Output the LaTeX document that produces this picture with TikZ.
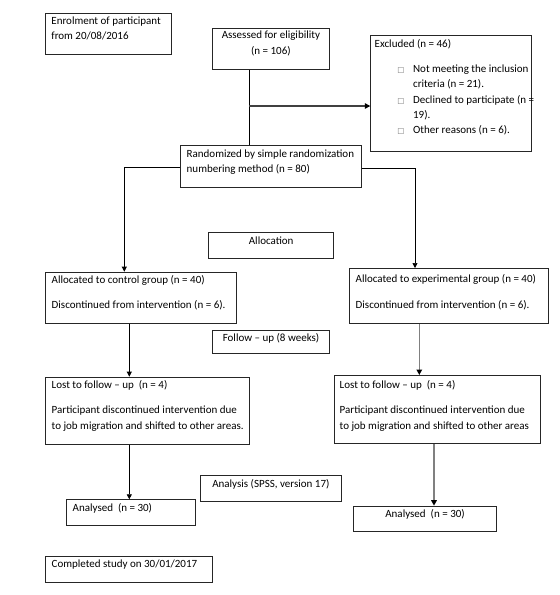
\documentclass[tikz,border=0pt]{standalone}
\usepackage{fontspec}
\setmainfont{Carlito}
\newfontfamily\dejavu{DejaVu Sans}
\usetikzlibrary{arrows.meta,calc}
\newcommand{\LB}[4]{\parbox[c][#2pt][t]{#1pt}{\vspace*{#3pt}\leftskip=6pt\rightskip=-30pt plus 1fil\parfillskip=0pt plus 1fil\strut #4\par}}
\newcommand{\CB}[4]{\parbox[c][#2pt][t]{#1pt}{\vspace*{#3pt}\centering\strut #4\par}}
\newcommand{\sqb}{{\dejavu\fontsize{7.5}{8}\selectfont\color{black!55}□}}
\newcommand{\bul}{\leavevmode\llap{\makebox[15.7pt][l]{\sqb}}}
\begin{document}
\begin{tikzpicture}[x=1pt,y=-1pt,
  font=\fontsize{11}{15.3}\selectfont,
  box/.style={draw=black!85, line width=0.8pt, inner sep=0pt, anchor=north west},
  ln/.style={draw=black, line width=0.7pt},
  arr/.style={ln, -{Triangle[length=5pt,width=5pt]}},
  garr/.style={draw=black!50, line width=1.5pt, -{Triangle[length=5.5pt,width=5.5pt,color=black]}},
  darr/.style={draw=black!75, line width=1.3pt, -{Triangle[length=5.5pt,width=5.5pt,color=black]}}]
\fill[white] (0,0) rectangle (560,595);
\useasboundingbox (0,0) rectangle (560,595);

\node[box] (enrol) at (45,13) {\LB{125.7}{41.3}{0.35}{Enrolment of participant\\from 20/08/2016}};
\node[box] (assess) at (211.7,28.3) {\CB{117.6}{41}{-0.6}{Assessed for eligibility\\(n = 106)}};
\node[box] (excl) at (370.3,34.7) {\parbox[c][116pt][t]{160.4pt}{\vspace*{1.3pt}\leftskip=4pt\rightskip=-30pt plus 1fil\parfillskip=0pt plus 1fil\strut Excluded (n = 46)\par\vspace{10.2pt}\leftskip=42.4pt
  \bul Not meeting the inclusion\\criteria (n = 21).\par
  \bul Declined to participate (n =\\19).\par
  \bul Other reasons (n = 6).\par}};
\node[box] (rand) at (180.3,145) {\LB{180.7}{41.7}{0.95}{Randomized by simple randomization\\numbering method (n = 80)}};
\node[box] (alloc) at (208.3,232.3) {\CB{125}{26}{1.35}{Allocation}};
\node[box] (ctrlA) at (45.3,271.7) {\LB{190.4}{51.6}{0.25}{Allocated to control group (n = 40)\\[10.2pt]Discontinued from intervention (n = 6).}};
\node[box] (expA) at (349.3,268) {\LB{198.4}{55.3}{3.4}{Allocated to experimental group (n = 40)\\[10.2pt]Discontinued from intervention (n = 6).}};
\node[box] (follow) at (212,330) {\CB{117.3}{23}{0.3}{Follow -- up (8 weeks)}};
\node[box] (lostC) at (45.3,376.7) {\LB{204}{67.3}{0.95}{Lost to follow -- up\ \ (n = 4)\\[9.7pt]Participant discontinued intervention due\\to job migration and shifted to other areas.}};
\node[box] (lostE) at (334,375) {\parbox[c][68.3pt][t]{206pt}{\vspace*{2.6pt}\leftskip=5.3pt\rightskip=-30pt plus 1fil\parfillskip=0pt plus 1fil\strut Lost to follow -- up\ \ (n = 4)\\[9.7pt]Participant discontinued intervention due\\to job migration and shifted to other areas\par}};
\node[box] (spss) at (200,475) {\CB{141}{26.3}{0.95}{Analysis (SPSS, version 17)}};
\node[box] (anaC) at (66.3,499.3) {\LB{128.4}{26}{0.65}{Analysed\ \ (n = 30)}};
\node[box] (anaE) at (353.3,505.7) {\CB{142.7}{25.3}{0.95}{Analysed\ \ (n = 30)}};
\node[box] (done) at (45.3,555.7) {\LB{166.7}{26.6}{0.25}{Completed study on 30/01/2017}};

\coordinate (v1) at (249.3,106);
\draw[ln] (assess.south -| v1) -- (rand.north -| v1);
\draw[darr] (v1) -- (v1 -| excl.west);

\coordinate (cL) at (124.3,167.3);
\draw[arr] (cL -| rand.west) -| (cL |- ctrlA.north);
\coordinate (cR) at (415,168.3);
\draw[arr] (cR -| rand.east) -| (cR |- expA.north);

\coordinate (c3) at (129.3,0);
\draw[arr] (c3 |- ctrlA.south) -- (c3 |- lostC.north);
\draw[arr] (c3 |- lostC.south) -- (c3 |- anaC.north);
\coordinate (c4) at (419.3,0);
\draw[garr] (c4 |- expA.south) -- (c4 |- lostE.north);
\coordinate (c5) at (434,0);
\draw[garr] (c5 |- lostE.south) -- (c5 |- anaE.north);
\end{tikzpicture}
\end{document}
